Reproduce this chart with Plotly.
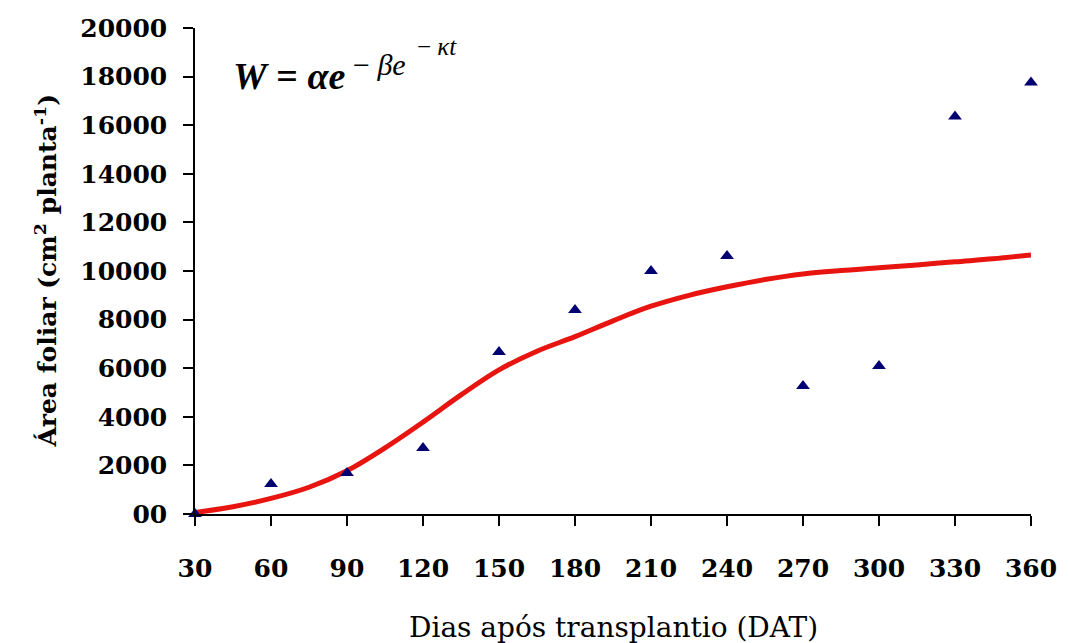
import plotly.graph_objects as go

# Observed data (days after transplanting, leaf area)
dias = [30, 60, 90, 120, 150, 180, 210, 240, 270, 300, 330, 360]
area_obs = [0, 1230, 1690, 2720, 6670, 8400, 10000, 10620, 5270, 6090, 16360, 17760]

# Fitted Gompertz curve
dias_fit = [30, 45, 60, 75, 90, 105, 120, 135, 150, 165, 180, 195, 210, 225, 240,
            255, 270, 285, 300, 315, 330, 345, 360]
area_fit = [60, 300, 640, 1100, 1780, 2720, 3780, 4900, 5930, 6700, 7300, 7950, 8550,
            9000, 9350, 9650, 9880, 10020, 10130, 10250, 10380, 10500, 10660]

x_ticks = [30, 60, 90, 120, 150, 180, 210, 240, 270, 300, 330, 360]
y_ticks = [0, 2000, 4000, 6000, 8000, 10000, 12000, 14000, 16000, 18000, 20000]
y_ticktext = ["00", "2000", "4000", "6000", "8000", "10000", "12000", "14000",
              "16000", "18000", "20000"]

fig = go.Figure()
fig.add_trace(go.Scatter(x=dias_fit, y=area_fit, mode="lines",
                         line=dict(color="#e8140f", width=5, shape="spline"),
                         showlegend=False, hoverinfo="skip", cliponaxis=False))
fig.add_trace(go.Scatter(x=dias, y=area_obs, mode="markers", cliponaxis=False,
                         marker=dict(symbol="triangle-up", size=12, color="#000070"),
                         showlegend=False))

W, H = 1069, 643
L, R, T, B = 195, 29, 28, 129
pw, ph = W - L - R, H - T - B

def px(x):
    return (x - L) / pw

def py(y):
    return (H - B - y) / ph

tick_font = dict(family="DejaVu Serif", size=25, color="black", weight="bold")

fig.update_layout(
    width=W, height=H,
    margin=dict(l=L, r=R, t=T, b=B),
    paper_bgcolor="white", plot_bgcolor="white",
    xaxis=dict(range=[30, 360], tickvals=x_ticks, ticks="outside", ticklen=10,
               tickwidth=1.5, tickcolor="black", showline=True, linecolor="black",
               linewidth=1.5, showgrid=False, zeroline=False, ticklabelstandoff=21,
               tickfont=tick_font),
    yaxis=dict(range=[0, 20000], tickvals=y_ticks, ticktext=y_ticktext,
               ticks="outside", ticklen=10, tickwidth=1.5, tickcolor="black",
               showline=True, linecolor="black", linewidth=1.5,
               showgrid=False, zeroline=False, ticklabelstandoff=11,
               tickfont=tick_font),
)

# Axis titles
fig.add_annotation(xref="paper", yref="paper", x=0.5, y=py(627), xanchor="center", yanchor="middle",
                   text="Dias após transplantio (DAT)", showarrow=False,
                   font=dict(family="DejaVu Serif", size=28, color="black"))
fig.add_annotation(xref="paper", yref="paper", x=px(44), y=py(271), xanchor="center", yanchor="middle",
                   text="Área foliar (cm<sup>2</sup> planta<sup>-1</sup>)", showarrow=False, textangle=-90,
                   font=dict(family="DejaVu Serif", size=25, color="black", weight="bold"))

# Model equation
fig.add_annotation(xref="paper", yref="paper", x=px(231), y=py(76), xanchor="left", yanchor="middle",
                   text="<b><i>W</i> = <i>αe</i></b>", showarrow=False,
                   font=dict(family="Liberation Serif", size=38, color="black"))
fig.add_annotation(xref="paper", yref="paper", x=px(353), y=py(64), xanchor="left", yanchor="middle",
                   text="− <i>βe</i>", showarrow=False,
                   font=dict(family="Liberation Serif", size=30, color="black"))
fig.add_annotation(xref="paper", yref="paper", x=px(417), y=py(47), xanchor="left", yanchor="middle",
                   text="− <i>κt</i>", showarrow=False,
                   font=dict(family="Liberation Serif", size=25, color="black"))

fig.write_html("out.html")
